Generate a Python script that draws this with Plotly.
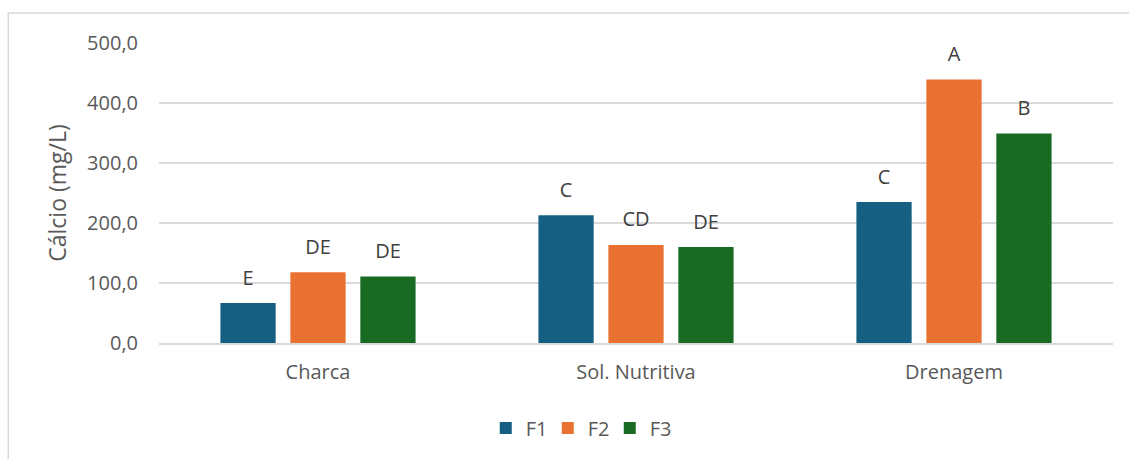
import plotly.graph_objects as go

# Dados
categorias = ["Charca", "Sol. Nutritiva", "Drenagem"]
series = ["F1", "F2", "F3"]
valores_f1 = [66.5, 213.0, 235.0]
valores_f2 = [118.0, 163.5, 439.0]
valores_f3 = [111.0, 160.0, 349.0]
letras_f1 = ["E", "C", "C"]
letras_f2 = ["DE", "CD", "A"]
letras_f3 = ["DE", "DE", "B"]

# Cores (tema Office)
azul = "#156082"
laranja = "#E97132"
verde = "#196B24"
cinza_texto = "#595959"
cinza_grade = "#D9D9D9"

fonte = "Open Sans"
gap = 0.34

fig = go.Figure()
for nome, valores, cor in zip(series, [valores_f1, valores_f2, valores_f3], [azul, laranja, verde]):
    fig.add_trace(go.Bar(
        name=nome,
        x=categorias,
        y=valores,
        offsetgroup=nome,
        marker=dict(color=cor, line=dict(width=0)),
        hoverinfo="skip",
    ))

# letras acima das barras (marcador invisível controla o afastamento)
for nome, valores, letras in zip(series, [valores_f1, valores_f2, valores_f3], [letras_f1, letras_f2, letras_f3]):
    fig.add_trace(go.Scatter(
        x=categorias,
        y=valores,
        offsetgroup=nome,
        mode="markers+text",
        text=letras,
        textposition="top center",
        textfont=dict(family=fonte, size=20, color="#404040"),
        marker=dict(size=20, opacity=0),
        showlegend=False,
        cliponaxis=False,
        hoverinfo="skip",
    ))

fig.update_layout(
    width=1129,
    height=459,
    barmode="group",
    bargap=gap,
    bargroupgap=0.21,
    scattermode="group",
    scattergap=gap,
    plot_bgcolor="white",
    paper_bgcolor="white",
    margin=dict(l=159, r=16, t=43, b=116),
    font=dict(family=fonte, size=20, color=cinza_texto),
    showlegend=True,
    legend=dict(
        orientation="h",
        x=0.44,
        xanchor="center",
        y=-0.283,
        yanchor="middle",
        font=dict(size=20, color=cinza_texto),
        itemwidth=30,
        entrywidth=17,
        traceorder="normal",
    ),
    shapes=[dict(
        type="rect",
        xref="paper", yref="paper",
        x0=-0.158, x1=1.05, y0=-0.5, y1=1.1,
        line=dict(color="#D9D9D9", width=1.5),
        fillcolor="rgba(0,0,0,0)",
        layer="below",
    )],
    separators=",.",
)

fig.update_yaxes(
    range=[0, 500],
    dtick=100,
    tickformat=".1f",
    showgrid=True,
    gridcolor=cinza_grade,
    gridwidth=1.5,
    zeroline=False,
    showline=False,
    ticks="",
    ticklabelstandoff=20,
    title=dict(text="Cálcio (mg/L)", font=dict(size=23, color=cinza_texto), standoff=14),
)
fig.update_xaxes(
    showgrid=False,
    showline=True,
    linecolor=cinza_grade,
    linewidth=1.5,
    ticks="",
    ticklabelstandoff=10,
)

fig.write_html(
    "out.html",
    config={"displayModeBar": False},
    post_script="document.body.style.margin='0';",
)
